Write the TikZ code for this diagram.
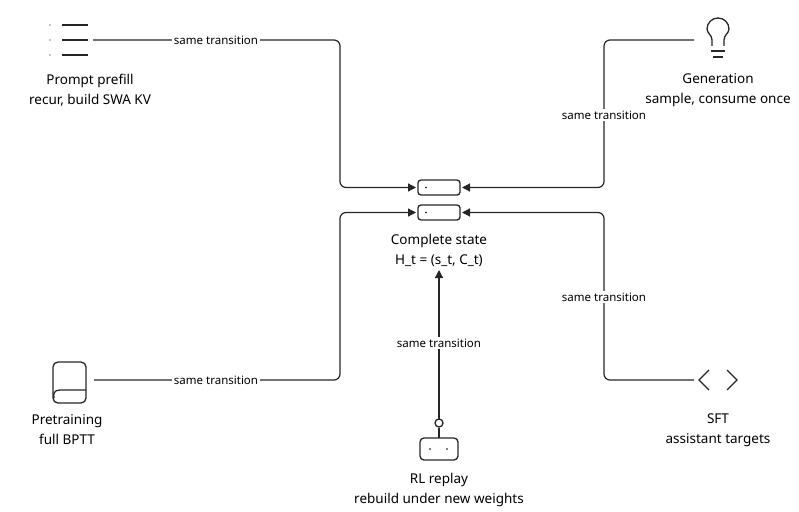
\documentclass[tikz,border=0pt]{standalone}
\usepackage{fontspec}
\setmainfont{Noto Sans}
\usetikzlibrary{arrows.meta}
\begin{document}
\begin{tikzpicture}[x=1pt,y=-1pt,
  conn/.style={draw=black!85,line width=1.2pt,rounded corners=6pt,-{Triangle[length=8pt,width=8pt]}},
  ico/.style={draw=black!85,line width=1.3pt},
  lbl/.style={fill=white,inner sep=2pt,font=\fontsize{11.5}{13}\selectfont},
  txt/.style={align=center,font=\fontsize{13.5}{20}\selectfont}]
\useasboundingbox (0,0) rectangle (799,511);
% state boxes
\draw[ico,rounded corners=3pt] (418,180) rectangle (460,195);
\draw[ico,rounded corners=3pt] (418,205) rectangle (460,220);
\fill (426,187.5) circle (0.8); \fill (426,212.5) circle (0.8);
\coordinate (s1w) at (416,187.5); \coordinate (s1e) at (462,187.5);
\coordinate (s2w) at (416,212.5); \coordinate (s2e) at (462,212.5);
\node[txt] (st) at (439,250) {Complete state\\H\_t = (s\_t, C\_t)};
% prompt icon
\foreach \y in {25,40,55}{\draw[ico] (62,\y) -- (88,\y); \fill (50,\y) circle (0.7);}
\coordinate (p) at (93,40);
\node[txt] (pt) at (90,90) {Prompt prefill\\recur, build SWA KV};
\draw[conn] (p) -- (340,40) -- (340,187.5) -- (s1w);
\node[lbl] at (216,40) {same transition};
% generation bulb
\draw[ico] (712,46) -- (712,40) .. controls (712,35) and (707,33) .. (707,29) arc (180:360:11) .. controls (729,33) and (724,35) .. (724,40) -- (724,46);
\draw[ico] (711,51) -- (725,51); \draw[ico] (713,57) -- (723,57);
\coordinate (g) at (694,40);
\node[txt] (gt) at (718,90) {Generation\\sample, consume once};
\draw[conn] (g) -- (604,40) -- (604,187.5) -- (s1e);
\node[lbl] at (604,115) {same transition};
% pretraining book
\draw[ico,rounded corners=5pt] (53,403) -- (53,362) -- (86,362) -- (86,403) -- cycle;
\draw[ico] (86,390) -- (60,390) .. controls (54,390) and (53,394) .. (54,398);
\coordinate (b) at (94,380);
\node[txt] (bt) at (67,430) {Pretraining\\full BPTT};
\draw[conn] (b) -- (340,380) -- (340,212.5) -- (s2w);
\node[lbl] at (216,380) {same transition};
% SFT icon
\draw[ico] (709,370) -- (699,380) -- (709,390);
\draw[ico] (727,370) -- (737,380) -- (727,390);
\coordinate (f) at (694,380);
\node[txt] (ft) at (718,430) {SFT\\assistant targets};
\draw[conn] (f) -- (604,380) -- (604,212.5) -- (s2e);
\node[lbl] at (604,297) {same transition};
% RL robot
\draw[ico,rounded corners=4pt] (420,438) rectangle (458,460);
\draw[ico] (439,438) -- (439,428);
\draw[ico] (439,423) circle (4);
\fill (430,449) circle (0.8); \fill (447,449) circle (0.8);
\coordinate (r) at (439,419);
\node[txt] (rt) at (439,490) {RL replay\\rebuild under new weights};
\draw[conn] (r) -- (439,270);
\node[lbl] at (439,343) {same transition};
\end{tikzpicture}
\end{document}
